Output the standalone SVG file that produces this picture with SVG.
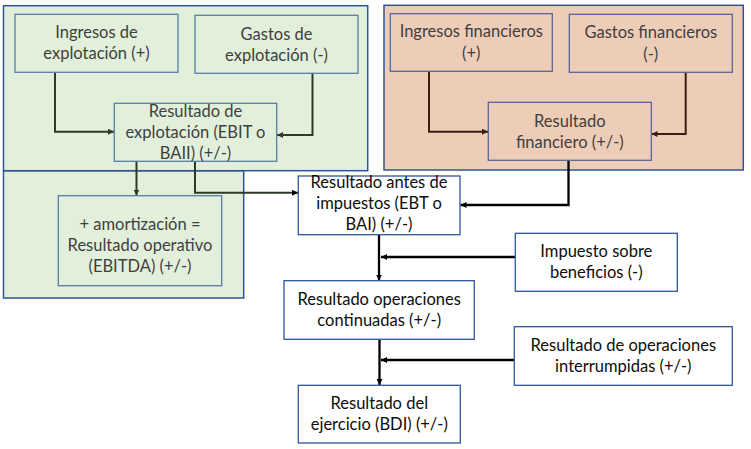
<svg xmlns="http://www.w3.org/2000/svg" width="751" height="449" viewBox="0 0 751 449">
<defs>
<style>
.region{stroke:#2F5597;stroke-width:1.5}
.green{fill:#E2EFDA}
.red{fill:#EECDB8}
.ng{fill:#E2EFDA;stroke:#5A7DA8;stroke-width:1.3}
.nr{fill:#EECDB8;stroke:#5A6698;stroke-width:1.3}
.nw{fill:#FFFFFF;stroke:#2F55A0;stroke-width:1.3}
text{font-family:Lato,"Liberation Sans",sans-serif;font-size:16.5px;text-anchor:middle}
.tg{fill:#3F3F3F}
.tw{fill:#0D0D0D}
.cg{fill:none;stroke:#2E3A28;stroke-width:2}
.cr{fill:none;stroke:#3A1E12;stroke-width:2}
.ck{fill:none;stroke:#000;stroke-width:2.3}
</style>
<marker id="ag" viewBox="0 0 10 10" refX="10" refY="5" markerWidth="6" markerHeight="6" markerUnits="userSpaceOnUse" orient="auto"><path d="M0,0 L10,5 L0,10 z" fill="#2E3A28"/></marker>
<marker id="ar" viewBox="0 0 10 10" refX="10" refY="5" markerWidth="6" markerHeight="6" markerUnits="userSpaceOnUse" orient="auto"><path d="M0,0 L10,5 L0,10 z" fill="#3A1E12"/></marker>
<marker id="ak" viewBox="0 0 10 10" refX="10" refY="5" markerWidth="6" markerHeight="6" markerUnits="userSpaceOnUse" orient="auto"><path d="M0,0 L10,5 L0,10 z" fill="#000"/></marker>
</defs>
<rect width="751" height="449" fill="#FFFFFF"/>
<g id="regions">
<rect class="region green" x="3.5" y="170.7" width="240.2" height="127.3"/>
<rect class="region green" x="3.5" y="5.7" width="364.2" height="165"/>
<rect class="region red" x="384" y="5.3" width="359.3" height="164.7"/>
</g>
<g id="connectors">
<path class="cg" d="M55,72.3 V131.7 H114" marker-end="url(#ag)"/>
<path class="cg" d="M312.5,73.3 V135 H277" marker-end="url(#ag)"/>
<path class="cg" d="M136.5,161.3 V195.5" marker-end="url(#ag)"/>
<path class="cg" d="M195,161.3 V192.7 H298" marker-end="url(#ak)"/>
<path class="cr" d="M429,71.3 V131.7 H488" marker-end="url(#ar)"/>
<path class="cr" d="M685.7,72.3 V134 H651.5" marker-end="url(#ar)"/>
<path class="ck" d="M568.5,160.3 V205 H460.5" marker-end="url(#ak)"/>
<path class="ck" d="M379,234.7 V280.5" marker-end="url(#ak)"/>
<path class="ck" d="M515,257 H381" marker-end="url(#ak)"/>
<path class="ck" d="M379.5,339.3 V385" marker-end="url(#ak)"/>
<path class="ck" d="M514.3,360 H381" marker-end="url(#ak)"/>
</g>
<g id="n-ingresos-expl">
<rect class="ng" x="15" y="14.3" width="163" height="58"/>
<text class="tg" x="96.5" y="38">Ingresos de</text>
<text class="tg" x="96.5" y="59">explotación (+)</text>
</g>
<g id="n-gastos-expl">
<rect class="ng" x="195" y="15.3" width="163" height="58"/>
<text class="tg" x="276.5" y="39.5">Gastos de</text>
<text class="tg" x="276.5" y="60.5">explotación (-)</text>
</g>
<g id="n-resultado-expl">
<rect class="ng" x="114.3" y="103.3" width="162.4" height="58"/>
<text class="tg" x="195.5" y="116.8">Resultado de</text>
<text class="tg" x="195.5" y="137.8">explotación (EBIT o</text>
<text class="tg" x="195.5" y="158.8">BAII) (+/-)</text>
</g>
<g id="n-ebitda">
<rect class="ng" x="58.3" y="195.7" width="163.4" height="90"/>
<text class="tg" x="140" y="230">+ amortización =</text>
<text class="tg" x="140" y="251">Resultado operativo</text>
<text class="tg" x="140" y="272">(EBITDA) (+/-)</text>
</g>
<g id="n-ingresos-fin">
<rect class="nr" x="390.3" y="13.7" width="162" height="57.6"/>
<text class="tg" x="471.3" y="37">Ingresos financieros</text>
<text class="tg" x="471.3" y="58.5">(+)</text>
</g>
<g id="n-gastos-fin">
<rect class="nr" x="569.3" y="14.3" width="163" height="58"/>
<text class="tg" x="650.8" y="38">Gastos financieros</text>
<text class="tg" x="650.8" y="59.5">(-)</text>
</g>
<g id="n-resultado-fin">
<rect class="nr" x="488.3" y="102.3" width="163" height="58"/>
<text class="tg" x="569.8" y="126.7">Resultado</text>
<text class="tg" x="569.8" y="147.7">financiero (+/-)</text>
</g>
<g id="n-antes-impuestos">
<rect class="nw" x="298.3" y="176" width="161.7" height="58.7"/>
<text class="tw" x="379" y="188.3">Resultado antes de</text>
<text class="tw" x="379" y="209">impuestos (EBT o</text>
<text class="tw" x="379" y="229.7">BAI) (+/-)</text>
</g>
<g id="n-impuesto">
<rect class="nw" x="515.3" y="233.3" width="162" height="58"/>
<text class="tw" x="596.3" y="257">Impuesto sobre</text>
<text class="tw" x="596.3" y="277.7">beneficios (-)</text>
</g>
<g id="n-continuadas">
<rect class="nw" x="284" y="280.7" width="190.3" height="58.6"/>
<text class="tw" x="379.2" y="304.7">Resultado operaciones</text>
<text class="tw" x="379.2" y="325.5">continuadas (+/-)</text>
</g>
<g id="n-interrumpidas">
<rect class="nw" x="514.3" y="326.7" width="218" height="58.6"/>
<text class="tw" x="623.3" y="350.8">Resultado de operaciones</text>
<text class="tw" x="623.3" y="371.5">interrumpidas (+/-)</text>
</g>
<g id="n-ejercicio">
<rect class="nw" x="298.3" y="385.3" width="162" height="57.7"/>
<text class="tw" x="379.3" y="408.7">Resultado del</text>
<text class="tw" x="379.3" y="429.5">ejercicio (BDI) (+/-)</text>
</g>
</svg>
